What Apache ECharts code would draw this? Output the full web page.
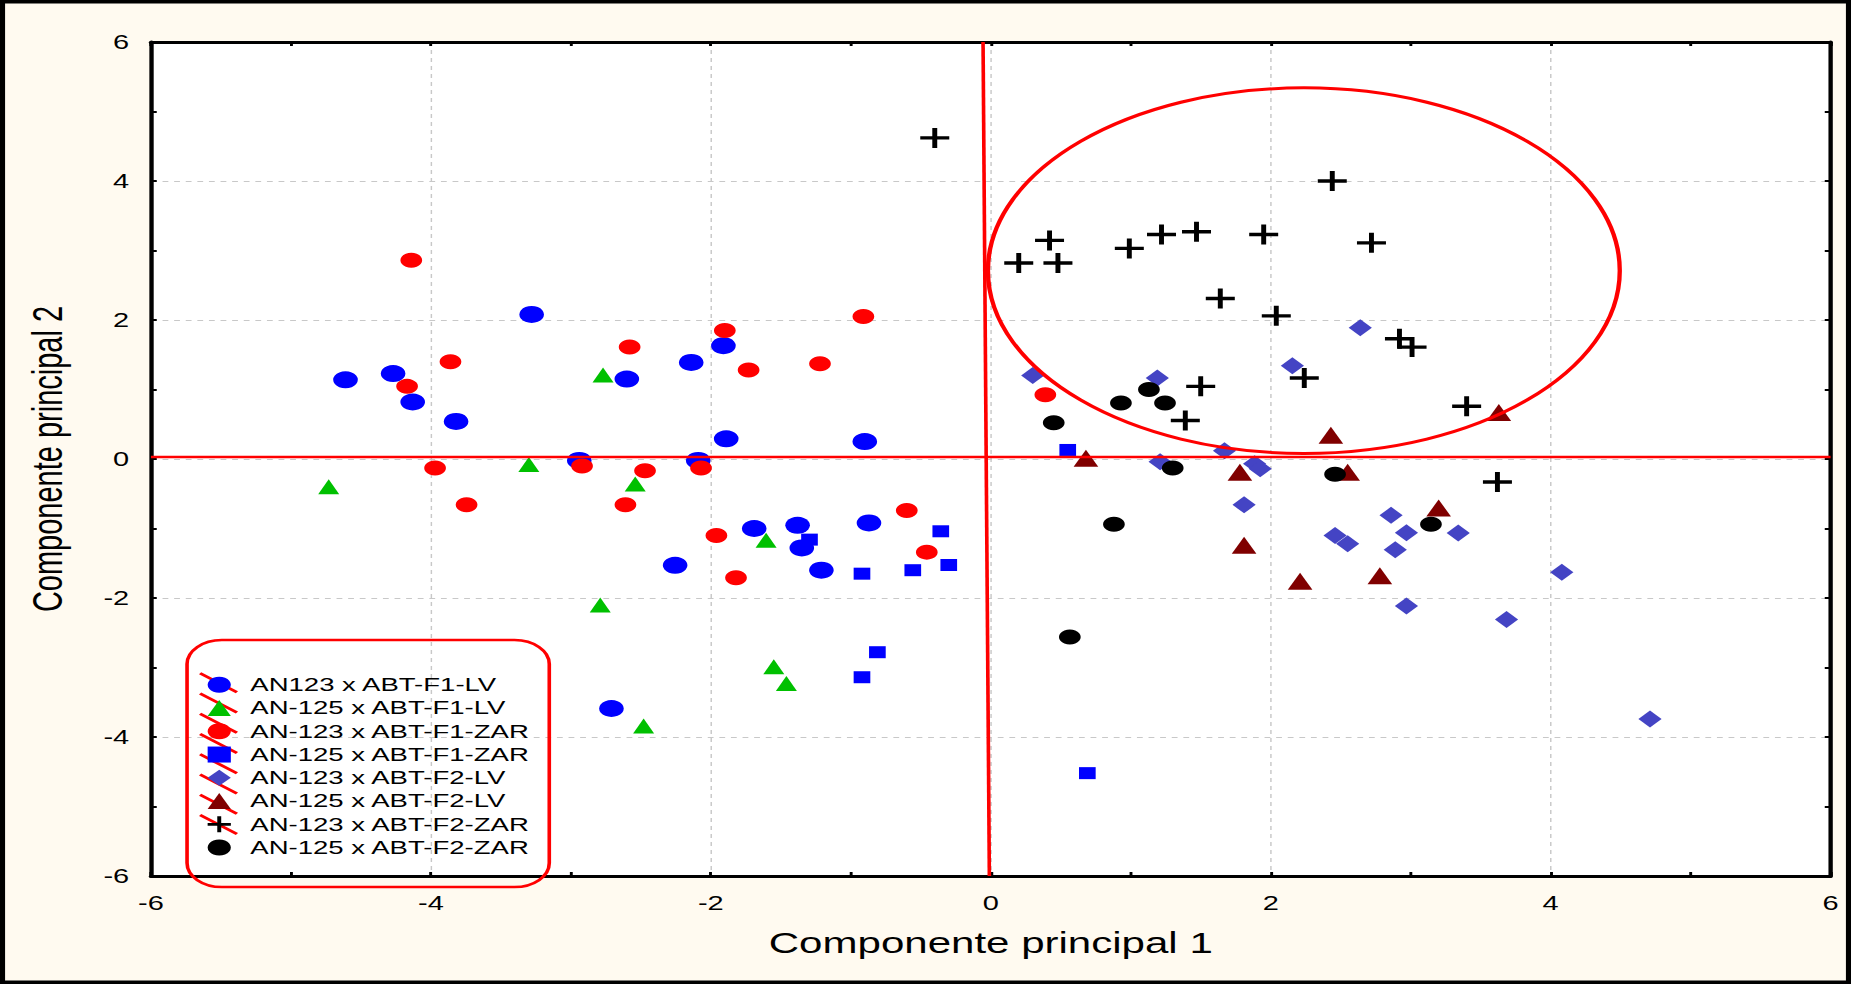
<!DOCTYPE html>
<html>
<head>
<meta charset="utf-8">
<script src="https://cdn.jsdelivr.net/npm/echarts@6/dist/echarts.min.js"></script>
<style>
html,body{margin:0;padding:0;background:#FFFAF0;overflow:hidden;width:1851px;height:984px}
#chart{height:984px;transform-origin:0 0}
</style>
</head>
<body>
<div id="chart"></div>
<script>
// ---- data ----
const seriesNames = [
  'AN123 x ABT-F1-LV',
  'AN-125 x ABT-F1-LV',
  'AN-123 x ABT-F1-ZAR',
  'AN-125 x ABT-F1-ZAR',
  'AN-123 x ABT-F2-LV',
  'AN-125 x ABT-F2-LV',
  'AN-123 x ABT-F2-ZAR',
  'AN-125 x ABT-F2-ZAR'
];
const an123F1LV = [[-4.61,1.14],[-4.27,1.23],[-4.13,0.82],[-3.82,0.54],[-3.28,2.08],[-2.94,-0.02],[-2.60,1.15],[-2.14,1.39],[-1.91,1.63],[-1.89,0.29],[-2.09,-0.02],[-0.90,0.25],[-1.69,-1.00],[-1.38,-0.955],[-1.35,-1.28],[-0.87,-0.92],[-2.255,-1.53],[-1.21,-1.60],[-2.71,-3.59]];
const an125F1LV = [[-4.73,-0.40],[-3.30,-0.08],[-2.77,1.21],[-2.54,-0.36],[-1.605,-1.17],[-2.79,-2.10],[-1.55,-2.99],[-1.46,-3.23],[-2.48,-3.84]];
const an123F1ZAR = [[-4.14,2.86],[-4.17,1.045],[-3.86,1.40],[-3.97,-0.13],[-3.745,-0.66],[-2.92,-0.10],[-2.58,1.61],[-2.47,-0.17],[-2.61,-0.66],[-2.07,-0.13],[-1.90,1.85],[-1.73,1.28],[-1.22,1.37],[-0.91,2.05],[-1.96,-1.10],[-0.60,-0.74],[-0.457,-1.34],[-1.82,-1.71],[0.39,0.925]];
const an125F1ZAR = [[-1.295,-1.16],[-0.357,-1.04],[-0.92,-1.65],[-0.557,-1.60],[-0.30,-1.525],[-0.81,-2.78],[-0.92,-3.14],[0.69,-4.52],[0.55,0.13]];
const an123F2LV = [[0.30,1.20],[1.19,1.165],[2.64,1.89],[2.155,1.34],[1.67,0.12],[1.21,-0.04],[1.885,-0.07],[1.925,-0.14],[1.81,-0.66],[2.86,-0.81],[2.97,-1.06],[3.34,-1.065],[2.89,-1.305],[2.46,-1.10],[2.55,-1.22],[4.08,-1.63],[2.97,-2.115],[3.685,-2.31],[4.71,-3.74]];
const an125F2LV = [[0.68,0.01],[1.78,-0.19],[2.55,-0.19],[2.43,0.34],[3.63,0.67],[3.20,-0.705],[1.81,-1.24],[2.21,-1.76],[2.78,-1.68]];
const an123F2ZAR = [[2.44,4.0],[0.42,3.145],[0.20,2.82],[0.48,2.82],[0.99,3.03],[1.22,3.23],[1.47,3.27],[1.95,3.23],[2.72,3.11],[1.64,2.31],[2.04,2.06],[2.92,1.73],[3.01,1.61],[2.24,1.165],[1.50,1.045],[1.39,0.555],[3.40,0.76],[3.62,-0.33],[-0.40,4.62]];
const an125F2ZAR = [[1.13,1.0],[0.93,0.805],[1.245,0.805],[0.45,0.52],[1.30,-0.13],[2.46,-0.22],[0.88,-0.94],[3.145,-0.94],[0.565,-2.56]];
// reference lines and ellipse (data coordinates)
const hLine = [[-6,0.03],[6,0.03]];
const vLine = [[-0.055,6],[-0.01,-6]];
const ellipseData = [[2.237,2.71,2.257,2.63]]; // cx, cy, rx, ry
const axisMin = -6, axisMax = 6, axisStep = 2;
const xTitle = 'Componente principal 1';
const yTitle = 'Componente principal 2';

// ---- layout ----
const S = 1.45;              // horizontal stretch of the original picture
const W = 1851 / S;
const el = document.getElementById('chart');
el.style.width = W + 'px';
el.style.transform = 'scaleX(' + S + ')';

const FONT = 'Liberation Sans, Arial, sans-serif';
const plusPath = 'path://M83,0H117V83H200V117H117V200H83V117H0V83H83Z';

const seriesDefs = [
  {data: an123F1LV, symbol: 'circle', size: 17, color: '#0000FF'},
  {data: an125F1LV, symbol: 'triangle', size: [14.5,15], color: '#00C000'},
  {data: an123F1ZAR, symbol: 'circle', size: 15, color: '#FF0000'},
  {data: an125F1ZAR, symbol: 'rect', size: [11.5,12], color: '#0000FF'},
  {data: an123F2LV, symbol: 'diamond', size: [16,17], color: '#4444C4'},
  {data: an125F2LV, symbol: 'triangle', size: [17,17], color: '#800000'},
  {data: an123F2ZAR, symbol: plusPath, size: 20, color: '#000000'},
  {data: an125F2ZAR, symbol: 'circle', size: 15, color: '#000000'}
];

const scatterSeries = seriesDefs.map((d, i) => ({
  name: seriesNames[i], type: 'scatter', data: d.data,
  symbol: d.symbol, symbolSize: d.size,
  itemStyle: {color: d.color, opacity: 1},
  z: 3
}));

// legend geometry (chart px, before stretch)
const LEG_LEFT = 129, LEG_TOP = 640;
const LEG_PAD = [35.3, 13, 30, 14.2];
const LEG_ITEM_H = 16, LEG_GAP = 4.25, LEG_ITEM_W = 16, LEG_TEXT_SHIFT = 8.4;
const legendSlashes = seriesNames.map((n, i) => {
  const cy = LEG_TOP + LEG_PAD[0] + LEG_ITEM_H / 2 + i * (LEG_ITEM_H + LEG_GAP);
  return {
    type: 'line', z: 5, silent: true,
    shape: {x1: 138, y1: cy - 10, x2: 163.4, y2: cy + 9},
    style: {stroke: '#FF0000', lineWidth: 2.6}
  };
});

const axisCommon = {
  type: 'value', min: axisMin, max: axisMax, interval: axisStep,
  axisLine: {show: true, onZero: false, lineStyle: {color: '#000', width: 3}},
  axisTick: {show: true, inside: true, length: 4, lineStyle: {color: '#000', width: 2}},
  minorTick: {show: true, splitNumber: 2, length: 4, lineStyle: {color: '#000', width: 2}},
  minorSplitLine: {show: false}
};

const chart = echarts.init(el, null, {renderer: 'svg', width: W, height: 984});
chart.setOption({
  animation: false,
  backgroundColor: '#FFFAF0',
  grid: {
    left: 104.1, right: 14.1, top: 42, bottom: 108,
    show: true, backgroundColor: '#FFFFFF', borderWidth: 0,
    containLabel: false, outerBoundsMode: 'none'
  },
  legend: {
    data: seriesNames, orient: 'vertical',
    left: LEG_LEFT, top: LEG_TOP,
    padding: LEG_PAD,
    itemWidth: LEG_ITEM_W, itemHeight: LEG_ITEM_H, itemGap: LEG_GAP,
    symbolKeepAspect: true,
    borderColor: '#FF0000', borderWidth: 2.5, borderRadius: 24,
    backgroundColor: 'transparent',
    formatter: name => '{g|}' + name,
    textStyle: {fontSize: 19, fontFamily: FONT, color: '#000', lineHeight: 16,
      rich: {g: {width: LEG_TEXT_SHIFT}}},
    selectedMode: false, z: 6
  },
  xAxis: [
    Object.assign({}, axisCommon, {
      position: 'bottom', name: xTitle, nameLocation: 'middle', nameGap: 52,
      nameTextStyle: {fontSize: 29, fontFamily: FONT, color: '#000'},
      axisLabel: {fontSize: 20, fontFamily: FONT, color: '#000', margin: 17},
      splitLine: {show: true, lineStyle: {color: '#C8C8C8', width: 1, type: [4, 4]}}
    }),
    Object.assign({}, axisCommon, {
      position: 'top', axisLabel: {show: false}, splitLine: {show: false}
    })
  ],
  yAxis: [
    Object.assign({}, axisCommon, {
      position: 'left', name: yTitle, nameLocation: 'middle', nameGap: 57,
      nameTextStyle: {fontSize: 29, fontFamily: FONT, color: '#000'},
      axisLabel: {fontSize: 20, fontFamily: FONT, color: '#000', margin: 15},
      splitLine: {show: true, lineStyle: {color: '#C8C8C8', width: 1, type: [4, 4]}}
    }),
    Object.assign({}, axisCommon, {
      position: 'right', axisLabel: {show: false}, splitLine: {show: false}
    })
  ],
  series: scatterSeries.concat([
    {type: 'line', data: hLine, symbol: 'none', silent: true, z: 4,
     lineStyle: {color: '#FF0000', width: 2.5}},
    {type: 'line', data: vLine, symbol: 'none', silent: true, z: 4,
     lineStyle: {color: '#FF0000', width: 2.5}},
    {type: 'custom', data: ellipseData, silent: true, z: 4, clip: false,
     encode: {x: 0, y: 1},
     renderItem: function (params, api) {
       const c = api.coord([api.value(0), api.value(1)]);
       const s = api.size([api.value(2), api.value(3)]);
       return {
         type: 'ellipse',
         shape: {cx: c[0], cy: c[1], rx: s[0], ry: s[1]},
         style: {fill: null, stroke: '#FF0000', lineWidth: 3}
       };
     }}
  ]),
  graphic: [
    {type: 'rect', z: 10, silent: true,
     shape: {x: 1.75, y: 1.75, width: W - 3.5, height: 984 - 3.5},
     style: {fill: null, stroke: '#000', lineWidth: 3.5}}
  ].concat(legendSlashes)
});
</script>
</body>
</html>
